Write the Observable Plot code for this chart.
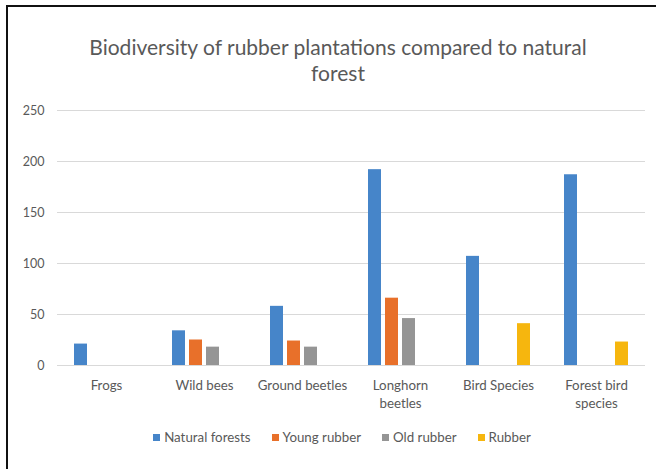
<!DOCTYPE html>
<html>
<head>
<meta charset="utf-8">
<script src="https://cdn.jsdelivr.net/npm/d3@7"></script>
<script src="https://cdn.jsdelivr.net/npm/@observablehq/plot@0.6"></script>
<style>
  html, body { margin: 0; padding: 0; background: #fff; }
  #wrap { position: relative; width: 656px; height: 469px; overflow: hidden; font-family: Lato, "Open Sans", sans-serif; color: #595959; }
  #bl { position: absolute; left: 6px; top: 5px; width: 2px; height: 480px; background: #111; }
  #bt { position: absolute; left: 6px; top: 5px; width: 680px; height: 2px; background: #111; }
  #title { position: absolute; top: 34px; left: 0; width: 676px; text-align: center; font-size: 21px; line-height: 26px; color: #595959; }
  #chart { position: absolute; left: 0; top: 95px; }
  #legend { position: absolute; top: 430px; left: 0; width: 684px; display: flex; justify-content: center; font-size: 13.3px; line-height: 14px; color: #595959; }
  .item { display: flex; align-items: center; margin: 0 10.5px; }
  .sw { width: 7px; height: 7px; margin-right: 4px; }
</style>
</head>
<body>
<div id="wrap">
  <div id="bl"></div><div id="bt"></div>
  <div id="title">Biodiversity of rubber plantations compared to natural<br>forest</div>
  <div id="chart"></div>
  <div id="legend"></div>
</div>
<script>
const categories = ["Frogs", "Wild bees", "Ground beetles", "Longhorn beetles", "Bird Species", "Forest bird species"];
const categoryLabels = ["Frogs", "Wild bees", "Ground beetles", "Longhorn\nbeetles", "Bird Species", "Forest bird\nspecies"];
const series = ["Natural forests", "Young rubber", "Old rubber", "Rubber"];
const colors = ["#4685c9", "#e8702a", "#959595", "#f6b60e"];
const naturalForests = [21, 34, 58, 192, 107, 187];
const youngRubber = [null, 25, 24, 66, null, null];
const oldRubber = [null, 18, 18, 46, null, null];
const rubber = [null, null, null, null, 41, 23];
const yTicks = [0, 50, 100, 150, 200, 250];

const seriesValues = [naturalForests, youngRubber, oldRubber, rubber];
const data = [];
categories.forEach((c, i) => {
  series.forEach((s, j) => {
    const v = seriesValues[j][i];
    if (v != null) data.push({category: c, series: s, value: v});
  });
});

const chart = Plot.plot({
  width: 656,
  height: 320,
  marginLeft: 57,
  marginRight: 11,
  marginTop: 15,
  marginBottom: 50,
  style: {fontFamily: "Lato, 'Open Sans', sans-serif", fontSize: "12.5px", color: "#595959", background: "transparent"},
  fx: {domain: categories, padding: 0, axis: null},
  x: {domain: series, paddingInner: 0.23, paddingOuter: 0.915, axis: null},
  y: {domain: [0, 250], axis: null},
  color: {domain: series, range: colors},
  marks: [
    Plot.ruleY(yTicks, {stroke: "#d9d9d9", strokeWidth: 1}),
    Plot.axisY(yTicks, {tickSize: 0, tickPadding: 13, fill: "#595959", fontSize: 12.5, label: null}),
    Plot.axisFx({anchor: "bottom", tickSize: 0, tickPadding: 12, tickFormat: d => categoryLabels[categories.indexOf(d)], lineHeight: 1.35, fill: "#595959", fontSize: 13.3, label: null}),
    Plot.barY(data, {fx: "category", x: "series", y: "value", fill: "series"})
  ]
});
document.getElementById("chart").appendChild(chart);

const legend = document.getElementById("legend");
series.forEach((s, j) => {
  const it = document.createElement("div");
  it.className = "item";
  const sw = document.createElement("div");
  sw.className = "sw";
  sw.style.background = colors[j];
  const lab = document.createElement("span");
  lab.textContent = s;
  it.appendChild(sw);
  it.appendChild(lab);
  legend.appendChild(it);
});
</script>
</body>
</html>
